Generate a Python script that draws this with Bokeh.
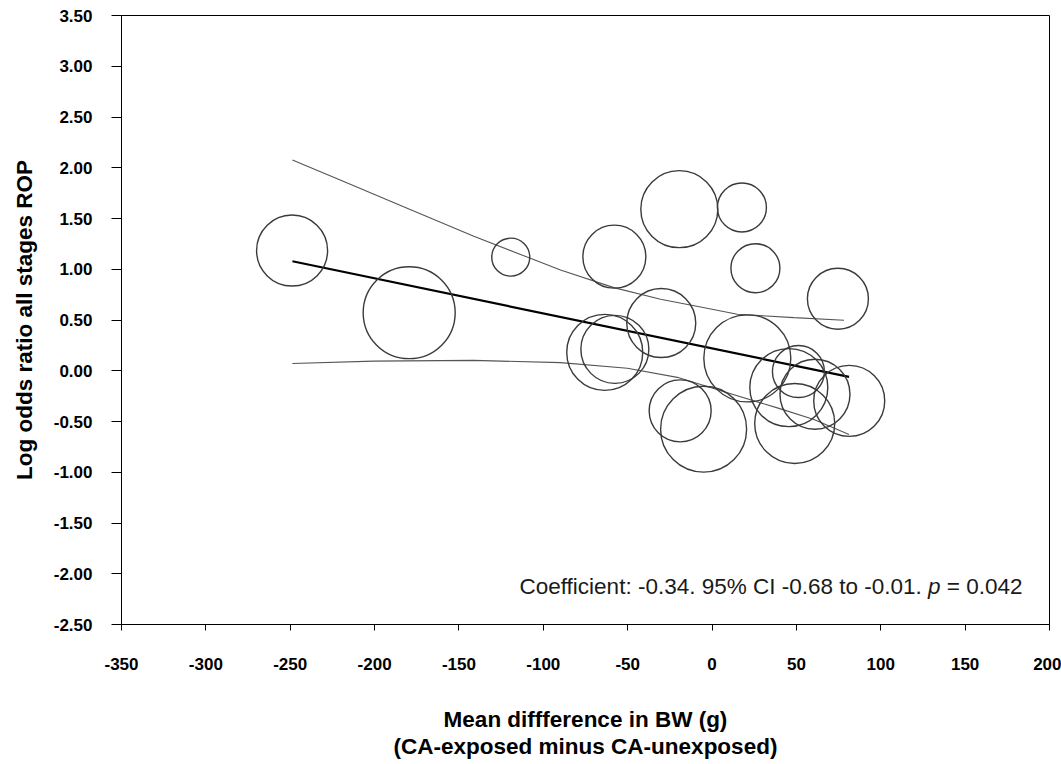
from bokeh.plotting import figure
from bokeh.models import Range1d, FixedTicker, Label, ColumnDataSource
from bokeh.embed import file_html
from bokeh.resources import INLINE

# ---- data ----
bw_diff = [-248.9, -179.5, -119.3, -57.9, -19.4, 17.7, 25.7, 74.6, -30.1, -63.6,
           -57.6, 20.9, -18.9, -5.0, 45.5, 51.2, 49.0, 61.0, 81.3]
log_or = [1.184, 0.572, 1.119, 1.124, 1.592, 1.608, 1.010, 0.709, 0.470, 0.181,
          0.211, 0.122, -0.395, -0.576, -0.166, -0.008, -0.520, -0.232, -0.297]
bubble_px = [71, 92, 38, 63, 77, 49, 49, 61, 69, 76, 68, 87, 62, 86, 78, 52, 80, 70, 71]

fit_x = [-248.7, 81.2]
fit_y = [1.079, -0.060]

upper_x = [-248.7, -220.4, -180.7, -141.2, -109.6, -89.8, -58.2, -30.5, -6.8, 15.0, 48.6, 78.2]
upper_y = [2.076, 1.880, 1.600, 1.325, 1.120, 0.993, 0.819, 0.704, 0.628, 0.556, 0.523, 0.497]
lower_x = [-248.7, -200.5, -141.2, -89.8, -50.2, -20.6, 9.1, 38.7, 60.4, 81.2]
lower_y = [0.072, 0.095, 0.102, 0.080, 0.025, -0.065, -0.217, -0.366, -0.480, -0.628]

x_ticks = [-350, -300, -250, -200, -150, -100, -50, 0, 50, 100, 150, 200]
x_tick_labels = ["-350", "-300", "-250", "-200", "-150", "-100", "-50", "0", "50", "100", "150", "200"]
y_ticks = [-2.5, -2.0, -1.5, -1.0, -0.5, 0.0, 0.5, 1.0, 1.5, 2.0, 2.5, 3.0, 3.5]
y_tick_labels = ["-2.50", "-2.00", "-1.50", "-1.00", "-0.50", "0.00", "0.50", "1.00",
                 "1.50", "2.00", "2.50", "3.00", "3.50"]

x_title = "Mean diffference in BW (g)\n(CA-exposed minus CA-unexposed)"
y_title = "Log odds ratio all stages ROP"
note_main = "Coefficient: -0.34. 95% CI -0.68 to -0.01."
note_p = "p"
note_tail = "= 0.042"

FONT = "Liberation Sans"

p = figure(width=1061, height=764, output_backend="svg", toolbar_location=None,
           x_range=Range1d(-350, 200), y_range=Range1d(-2.5, 3.5),
           min_border_left=121, min_border_right=12, min_border_top=15, min_border_bottom=140)
p.background_fill_color = "white"
p.border_fill_color = "white"
p.outline_line_color = "black"
p.outline_line_width = 1
p.xgrid.grid_line_color = None
p.ygrid.grid_line_color = None

for ax in (p.xaxis[0], p.yaxis[0]):
    ax.axis_line_color = "black"
    ax.major_tick_line_color = "black"
    ax.minor_tick_line_color = None
    ax.major_tick_in = 0
    ax.major_label_text_font = FONT
    ax.major_label_text_font_style = "bold"
    ax.major_label_text_font_size = "17px"
    ax.major_label_text_color = "black"
    ax.axis_label_text_font = FONT
    ax.axis_label_text_font_style = "bold"
    ax.axis_label_text_font_size = "22.5px"
    ax.axis_label_text_color = "black"
    ax.axis_label_text_line_height = 1.08

p.xaxis.ticker = FixedTicker(ticks=x_ticks)
p.xaxis.major_label_overrides = {t: l for t, l in zip(x_ticks, x_tick_labels)}
p.xaxis.major_tick_out = 6
p.xaxis.major_label_standoff = 27
p.xaxis.axis_label = x_title
p.xaxis.axis_label_standoff = 34

p.yaxis.ticker = FixedTicker(ticks=y_ticks)
p.yaxis.major_label_overrides = {t: l for t, l in zip(y_ticks, y_tick_labels)}
p.yaxis.major_tick_out = 10
p.yaxis.major_label_standoff = 19
p.yaxis.axis_label = y_title
p.yaxis.axis_label_standoff = 14

p.line(upper_x, upper_y, line_color="#555555", line_width=1.1)
p.line(lower_x, lower_y, line_color="#555555", line_width=1.1)
p.line(fit_x, fit_y, line_color="black", line_width=2.2)

src = ColumnDataSource(dict(x=bw_diff, y=log_or, s=bubble_px))
p.scatter("x", "y", size="s", source=src, marker="circle",
          fill_alpha=0, line_color="#3a3a3a", line_width=1.4)

# annotation, italic p placed with Arial/Liberation advance widths
fs = 22.5
w_tail = (0.584 + 0.278 + 0.556 * 4 + 0.278) * fs   # "= 0.042"
w_space = 0.278 * fs
w_p = 0.556 * fs
x_end, y_base = 184.0, -2.13
common = dict(y=y_base, x=x_end, text_align="right", text_baseline="alphabetic",
              text_font=FONT, text_font_size=f"{fs}px", text_color="#1a1a1a")
p.add_layout(Label(text=note_tail, **common))
p.add_layout(Label(text=note_p, x_offset=-(w_tail + w_space), text_font_style="italic", **common))
p.add_layout(Label(text=note_main, x_offset=-(w_tail + 2 * w_space + w_p), **common))

open("out.html", "w").write(file_html(p, INLINE))
